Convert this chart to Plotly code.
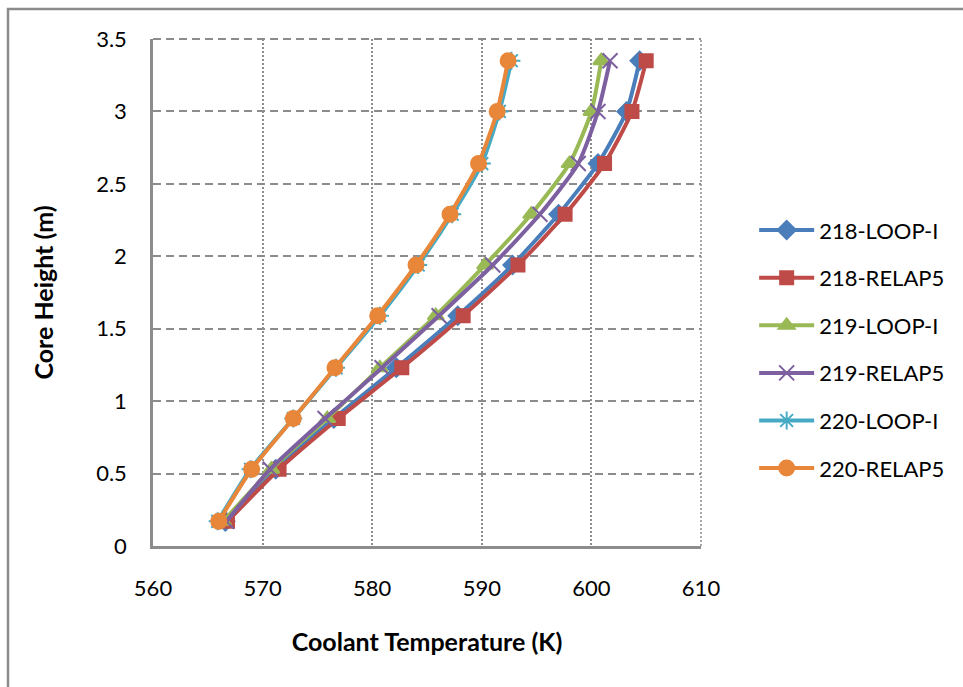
import plotly.graph_objects as go

heights = [0.17, 0.53, 0.88, 1.23, 1.59, 1.94, 2.29, 2.64, 3.00, 3.35]

t218_loop = [566.6, 571.2, 576.5, 582.2, 587.8, 592.8, 597.0, 600.6, 603.2, 604.4]
t218_relap = [566.8, 571.5, 576.9, 582.7, 588.3, 593.3, 597.6, 601.2, 603.7, 605.0]
t219_loop = [566.4, 570.8, 575.9, 580.7, 585.8, 590.3, 594.5, 598.0, 600.0, 600.9]
t219_relap = [566.7, 570.7, 575.7, 580.9, 586.1, 591.0, 595.3, 598.8, 600.6, 601.7]
t220_loop = [565.9, 568.9, 572.8, 576.7, 580.7, 584.2, 587.3, 590.0, 591.6, 592.7]
t220_relap = [566.0, 569.0, 572.8, 576.6, 580.5, 584.0, 587.1, 589.7, 591.4, 592.4]

names = ["218-LOOP-I", "218-RELAP5", "219-LOOP-I", "219-RELAP5", "220-LOOP-I", "220-RELAP5"]
series = [t218_loop, t218_relap, t219_loop, t219_relap, t220_loop, t220_relap]
colors = ["#4A7EBB", "#BE4B48", "#98B954", "#7D60A0", "#46AAC5", "#E8863A"]
symbols = ["diamond", "square", "triangle-up", "x-thin-open", "asterisk-open", "circle"]
sizes = [14, 13, 14, 15, 15, 15]

FONT = "Lato, 'Open Sans', sans-serif"
GRID = "#8c8c8c"

fig = go.Figure()
for i, (nm, xs) in enumerate(zip(names, series)):
    fig.add_trace(go.Scatter(
        x=xs, y=heights, name=nm, mode="lines+markers",
        line=dict(color=colors[i], width=4, shape="spline", smoothing=0.6),
        marker=dict(symbol=symbols[i], size=sizes[i], color=colors[i],
                    line=dict(color=colors[i], width=2)),
        legendgroup=nm,
    ))

L, R, T, B = 153, 701, 39, 546
W, H = 963, 687

fig.update_layout(
    width=W, height=H,
    margin=dict(l=L, r=W - R, t=T, b=H - B, pad=0),
    paper_bgcolor="white", plot_bgcolor="white",
    font=dict(family=FONT, size=21, color="black"),
    showlegend=True,
    legend=dict(x=1.097, y=0.388, xanchor="left", yanchor="middle",
                tracegroupgap=16, itemwidth=55,
                font=dict(family=FONT, size=22, color="black"),
                bgcolor="rgba(0,0,0,0)"),
    xaxis=dict(range=[560, 610], dtick=10, tick0=560,
               showgrid=True, gridcolor=GRID, griddash="2px,2px", gridwidth=1.5,
               showline=True, linecolor=GRID, linewidth=2.5,
               ticks="", ticklabelstandoff=21,
               tickfont=dict(family=FONT, size=22),
               zeroline=False,
               title=dict(text="<b>Coolant Temperature (K)</b>", standoff=34,
                          font=dict(family=FONT, size=25))),
    yaxis=dict(range=[0, 3.5], dtick=0.5, tick0=0,
               showgrid=True, gridcolor=GRID, griddash="8px,5px", gridwidth=2,
               showline=True, linecolor=GRID, linewidth=2.5,
               ticks="", ticklabelstandoff=19,
               tickfont=dict(family=FONT, size=22),
               zeroline=False,
               title=dict(text="<b>Core Height (m)</b>", standoff=36,
                          font=dict(family=FONT, size=25))),
)

# plot-area frame edges (top dashed, right dotted) like the gridlines
fig.add_shape(type="line", xref="paper", yref="paper", x0=0, x1=1, y0=1, y1=1,
              line=dict(color=GRID, width=2, dash="8px,5px"), layer="below")
fig.add_shape(type="line", xref="paper", yref="paper", x0=1, x1=1, y0=0, y1=1,
              line=dict(color=GRID, width=1.5, dash="2px,2px"), layer="below")

# outer chart border (px -> paper coords)
def px_x(p):
    return (p - L) / float(R - L)

def px_y(p):
    return (B - p) / float(B - T)

fig.add_shape(type="rect", xref="paper", yref="paper",
              x0=px_x(8), x1=px_x(980), y0=px_y(720), y1=px_y(9),
              line=dict(color=GRID, width=2.5), fillcolor="rgba(0,0,0,0)",
              layer="below")

fig.write_html("out.html", config={"displayModeBar": False},
               post_script="document.body.style.margin='0px';")
